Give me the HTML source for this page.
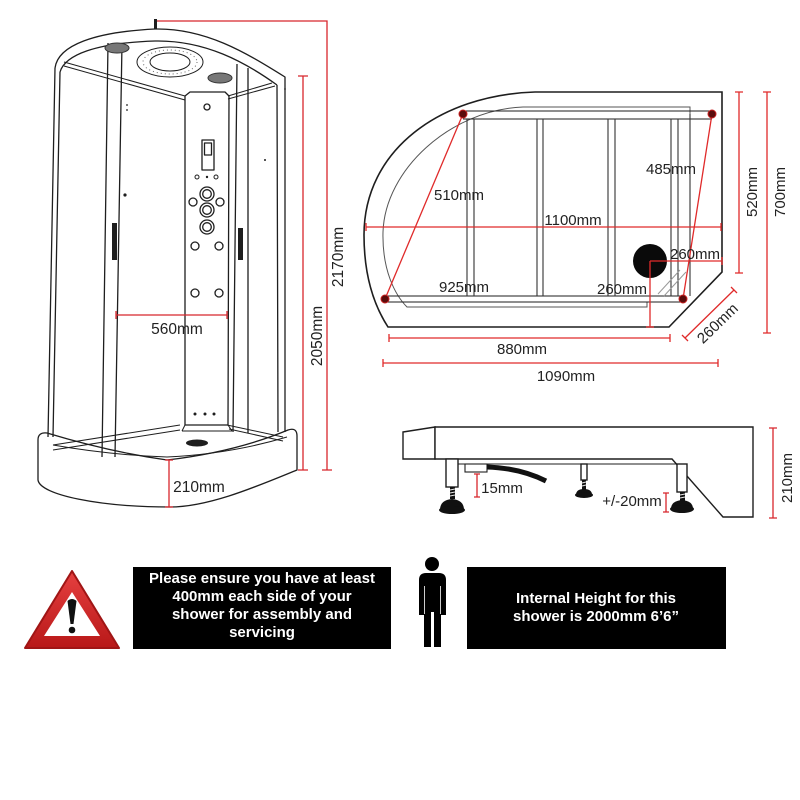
<!DOCTYPE html>
<html><head><meta charset="utf-8"><style>
html,body{margin:0;padding:0;background:#fff;}
svg{display:block;}
text{font-family:"Liberation Sans",Arial,sans-serif;}
</style></head><body>
<svg width="800" height="800" viewBox="0 0 800 800" xmlns="http://www.w3.org/2000/svg">
<rect width="800" height="800" fill="#fff"/>

<!-- ============ SHOWER (left) ============ -->
<g fill="none" stroke="#1e1e1e" stroke-width="1.3" stroke-linejoin="round">
  <!-- canopy -->
  <path d="M55,68 C58,45 95,32 155,29 C205,28 245,52 285,77 L285,90"/>
  <path d="M60,72 C65,55 95,43 155,41 C205,40 245,62 277,85"/>
  <!-- left frame -->
  <path d="M55,68 L48,437 M60,72 L53,437"/>
  <!-- right frame -->
  <path d="M285,88 L285,432 M277,85 L278,432"/>
  <!-- ceiling back edges -->
  <path d="M64,62 L185,96 M64,66 L185,100" stroke-width="1"/>
  <path d="M228,96 L272,83 M228,99 L275,86" stroke-width="1"/>
  <!-- doors -->
  <path d="M108,43 L102,457 M122,43 L115,457"/>
  <path d="M237,64 L233,432 M248,68 L248,433"/>
  <!-- panel -->
  <path d="M185,96 L190,92 L225,92 L229,96 L228,425 L185,425 Z"/>
  <path d="M182,431 L185,425 M228,425 L232,431 M182,431 L232,431" stroke-width="1"/>
  <circle cx="207" cy="107" r="3"/>
  <rect x="202" y="140" width="12" height="30"/>
  <rect x="204.5" y="143" width="7" height="12"/>
  <circle cx="197" cy="177" r="2" stroke-width="1"/>
  <circle cx="216" cy="177" r="2" stroke-width="1"/>
  <circle cx="207" cy="194" r="7"/><circle cx="207" cy="194" r="4.3"/>
  <circle cx="207" cy="210" r="7"/><circle cx="207" cy="210" r="4.3"/>
  <circle cx="207" cy="227" r="7"/><circle cx="207" cy="227" r="4.3"/>
  <circle cx="193" cy="202" r="4"/><circle cx="220" cy="202" r="4"/>
  <circle cx="195" cy="246" r="4"/><circle cx="219" cy="246" r="4"/>
  <circle cx="195" cy="293" r="4"/><circle cx="219" cy="293" r="4"/>
  <!-- ceiling fixtures -->
  <ellipse cx="170" cy="62" rx="33" ry="15" stroke-width="1"/>
  <ellipse cx="170" cy="62" rx="20" ry="9" stroke-width="1"/>
  <ellipse cx="170" cy="62" rx="27" ry="12" stroke-width="1" stroke-dasharray="1 3" stroke="#666"/>
  <!-- tray -->
  <path d="M38,480 L38,440 Q38,432 47,433 Q110,452 167,460 Q235,452 288,430 Q297,427 297,436 L297,470 C260,485 210,507 170,507 C100,507 40,495 38,480 Z"/>
  <path d="M53,445 Q110,455 167,457 Q230,454 287,437" stroke-width="1"/>
  <path d="M53,445 L180,425 M53,450 L180,430 M227,425 L283,437 M229,429 L283,441" stroke-width="1"/>
</g>
<g fill="#1e1e1e">
  <rect x="154" y="19" width="3" height="10"/>
  <rect x="112" y="223" width="5" height="37"/>
  <rect x="238" y="228" width="5" height="32"/>
  <circle cx="207" cy="177" r="1.2"/>
  <circle cx="195" cy="414" r="1.5"/><circle cx="205" cy="414" r="1.5"/><circle cx="214" cy="414" r="1.5"/>
  <circle cx="125" cy="195" r="1.6"/>
  <circle cx="127" cy="105" r="0.9"/><circle cx="127" cy="110" r="0.9"/>
  <circle cx="265" cy="160" r="1"/>
  <ellipse cx="197" cy="443" rx="11" ry="3.5"/>
</g>
<ellipse cx="117" cy="48" rx="12" ry="5" fill="#777" stroke="#333" stroke-width="1"/>
<ellipse cx="220" cy="78" rx="12" ry="5" fill="#777" stroke="#333" stroke-width="1"/>

<!-- shower dimensions -->
<g stroke="#d8262c" stroke-width="1.3" fill="none">
  <path d="M157,21 L327,21 L327,470 M322,470 L332,470"/>
  <path d="M303,76 L303,470 M298,76 L308,76 M298,470 L308,470"/>
  <path d="M116,315 L227,315 M116,311 L116,319 M227,311 L227,319"/>
  <path d="M169,460 L169,507 M165,460 L173,460 M165,507 L173,507"/>
</g>
<g fill="#222" font-size="15.5">
  <text x="177" y="334" text-anchor="middle">560mm</text>
  <text x="199" y="492" text-anchor="middle">210mm</text>
  <text transform="translate(343,257) rotate(-90)" text-anchor="middle">2170mm</text>
  <text transform="translate(322,336) rotate(-90)" text-anchor="middle">2050mm</text>
</g>

<!-- ============ PLAN VIEW ============ -->
<g fill="none" stroke="#1e1e1e">
  <path d="M535,92 L722,92 L722,272 L669,327 L388,327 Q364,290 364,235 C364,150 440,95 535,92 Z" stroke-width="1.6"/>
  <path d="M690,114 L690,107 L523,107 C450,110 385,170 383,232 C382,270 395,295 407,307 L647,307 L647,302" stroke-width="1" stroke="#555"/>
  <!-- rails -->
  <path d="M463,111 L712,111 M463,119 L712,119" stroke-width="1.1"/>
  <path d="M385,296 L683,296 M385,302 L683,302" stroke-width="1.1"/>
  <!-- posts -->
  <path d="M467,119 L467,296 M474,119 L474,296 M537,119 L537,296 M543,119 L543,296 M608,119 L608,296 M615,119 L615,296 M671,119 L671,296 M678,119 L678,296 M690,114 L690,296" stroke-width="1.1" stroke="#333"/>
  <path d="M680,270 L658,294 M686,272 L664,296" stroke="#999" stroke-width="1"/>
</g>
<circle cx="650" cy="261" r="17" fill="#0a0a0a"/>
<g stroke="#e02a2a" stroke-width="1.3" fill="none">
  <path d="M463,114 L385,299"/>
  <path d="M712,114 L683,299"/>
  <path d="M366,227 L721,227 M366,223 L366,231 M721,223 L721,231"/>
  <path d="M650,261 L722,261 M722,257 L722,265"/>
  <path d="M650,261 L650,327 M646,327 L654,327"/>
  <path d="M389,338 L670,338 M389,334 L389,342 M670,334 L670,342"/>
  <path d="M383,363 L718,363 M383,359 L383,367 M718,359 L718,367"/>
  <path d="M739,92 L739,273 M735,92 L743,92 M735,273 L743,273"/>
  <path d="M767,92 L767,333 M763,92 L771,92 M763,333 L771,333"/>
  <path d="M685,338 L734,290 M682,335 L688,341 M731,287 L737,293"/>
</g>
<g fill="#5a0c0c" stroke="#c81f1f" stroke-width="1">
  <circle cx="463" cy="114" r="4"/><circle cx="712" cy="114" r="4"/>
  <circle cx="385" cy="299" r="4"/><circle cx="683" cy="299" r="4"/>
</g>
<g fill="#222" font-size="15">
  <text x="459" y="200" text-anchor="middle">510mm</text>
  <text x="671" y="174" text-anchor="middle">485mm</text>
  <text x="573" y="225" text-anchor="middle">1100mm</text>
  <text x="695" y="259" text-anchor="middle">260mm</text>
  <text x="464" y="292" text-anchor="middle">925mm</text>
  <text x="622" y="294" text-anchor="middle">260mm</text>
  <text x="522" y="354" text-anchor="middle">880mm</text>
  <text x="566" y="381" text-anchor="middle">1090mm</text>
  <text transform="translate(757,192) rotate(-90)" text-anchor="middle">520mm</text>
  <text transform="translate(785,192) rotate(-90)" text-anchor="middle">700mm</text>
  <text transform="translate(721,327) rotate(-44)" text-anchor="middle">260mm</text>
</g>

<!-- ============ SIDE VIEW (tray) ============ -->
<g fill="#fff" stroke="#1e1e1e" stroke-width="1.4" stroke-linejoin="miter">
  <path d="M403,432 L435,427 L435,459 L403,459 Z"/>
  <path d="M435,427 L753,427 L753,517 L723,517 L672,459 L435,459 Z"/>
  <path d="M457,464 L677,464 M457,459 L457,464" fill="none" stroke-width="1.1"/>
  <rect x="446" y="459" width="12" height="28"/>
  <rect x="581" y="464" width="6" height="16"/>
  <rect x="677" y="464" width="10" height="28"/>
  <rect x="465" y="464" width="22" height="8" stroke-width="1.1"/>
</g>
<path d="M487,467 Q520,468 546,481" fill="none" stroke="#111" stroke-width="5"/>
<g fill="#111">
  <rect x="450" y="487" width="5" height="12"/>
  <rect x="582" y="480" width="4" height="10"/>
  <rect x="680" y="492" width="5" height="11"/>
  <path d="M440,510 Q440,500 452,499 Q464,500 464,510 Q452,514 440,510 Z"/>
  <ellipse cx="452" cy="510" rx="13" ry="4"/>
  <path d="M576,495 Q576,489 584,489 Q592,489 592,495 Z"/>
  <ellipse cx="584" cy="495" rx="9" ry="3"/>
  <path d="M671,509 Q671,501 682,500 Q693,501 693,509 Z"/>
  <ellipse cx="682" cy="509" rx="12" ry="4"/>
</g>
<g stroke="#e8e8e8" stroke-width="1">
  <path d="M450,490 L455,489 M450,493 L455,492 M450,496 L455,495 M680,495 L685,494 M680,498 L685,497 M582,483 L586,482 M582,486 L586,485"/>
</g>
<g stroke="#d8262c" stroke-width="1.3" fill="none">
  <path d="M477,474 L477,497 M474,474 L480,474 M474,497 L480,497"/>
  <path d="M666,493 L666,512 M663,493 L669,493 M663,512 L669,512"/>
  <path d="M773,428 L773,518 M769,428 L777,428 M769,518 L777,518"/>
</g>
<g fill="#222" font-size="15">
  <text x="502" y="493" text-anchor="middle">15mm</text>
  <text x="632" y="506" text-anchor="middle">+/-20mm</text>
  <text transform="translate(792,478) rotate(-90)" text-anchor="middle">210mm</text>
</g>

<!-- ============ BOTTOM NOTICES ============ -->
<defs>
  <linearGradient id="tri" x1="0" y1="0" x2="0" y2="1">
    <stop offset="0" stop-color="#e64040"/>
    <stop offset="1" stop-color="#b81818"/>
  </linearGradient>
</defs>
<path d="M72,571 L119,648 L25,648 Z" fill="url(#tri)" stroke="#a01515" stroke-width="2" stroke-linejoin="round"/>
<path d="M72,592 L100,636 L44,636 Z" fill="#fff"/>
<path d="M67.5,601 Q72,597 76.5,601 L73.5,624 L70.5,624 Z" fill="#111"/>
<circle cx="72" cy="630" r="3.3" fill="#111"/>

<rect x="133" y="567" width="258" height="82" fill="#000"/>
<g fill="#fff" font-size="15" font-weight="bold" text-anchor="middle">
  <text x="262" y="583">Please ensure you have at least</text>
  <text x="262" y="601">400mm each side of your</text>
  <text x="262" y="619">shower for assembly and</text>
  <text x="262" y="637">servicing</text>
</g>

<!-- person -->
<g fill="#000">
  <circle cx="432" cy="564" r="7"/>
  <path d="M419,580 Q419,573 426,573 L439,573 Q446,573 446,580 L446,615 L441,615 L441,647 L434,647 L434,612 L431,612 L431,647 L424,647 L424,615 L419,615 Z"/>
</g>
<path d="M424.5,586 L424.5,614 M440.5,586 L440.5,614" stroke="#fff" stroke-width="0.8"/>

<rect x="467" y="567" width="259" height="82" fill="#000"/>
<g fill="#fff" font-size="15" font-weight="bold" text-anchor="middle">
  <text x="596" y="603">Internal Height for this</text>
  <text x="596" y="621">shower is 2000mm 6’6”</text>
</g>
</svg>
</body></html>
